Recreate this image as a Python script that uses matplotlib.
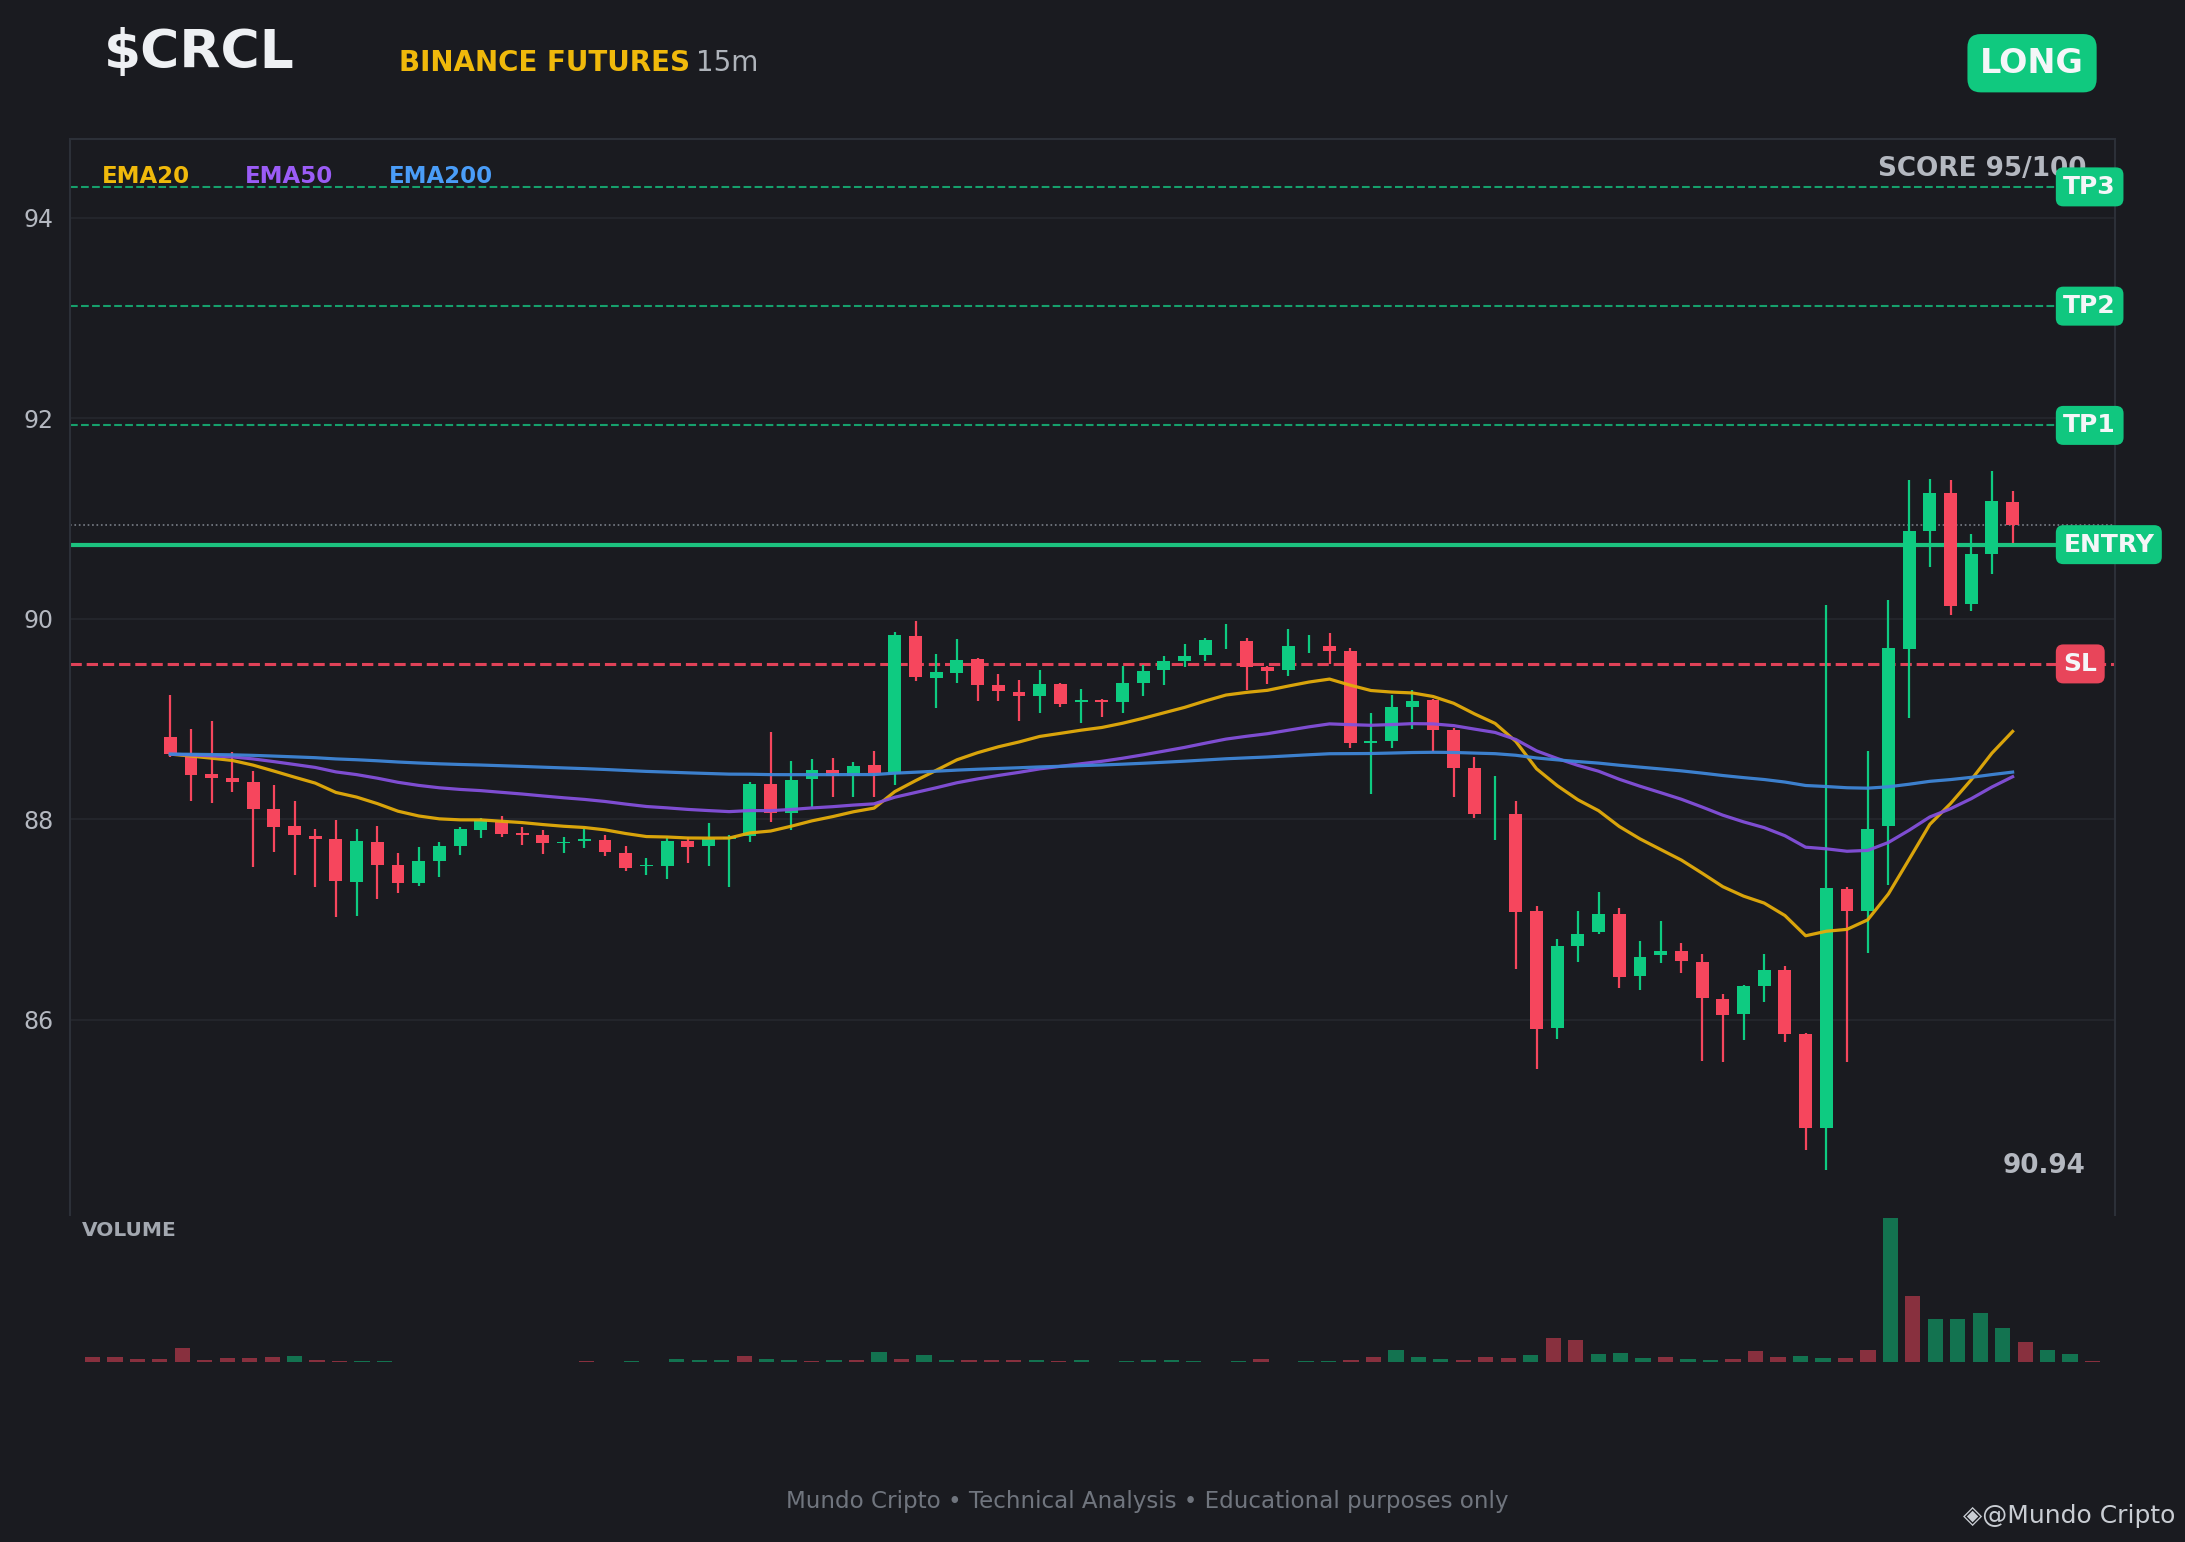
import numpy as np
import pandas as pd
import matplotlib
matplotlib.use("Agg")
import matplotlib.pyplot as plt

# --- candle data (15m) ---
opens = [88.82, 88.65, 88.45, 88.41, 88.37, 88.10, 87.93, 87.83, 87.80, 87.37,
         87.77, 87.54, 87.36, 87.58, 87.73, 87.89, 87.97, 87.86, 87.84, 87.76,
         87.78, 87.79, 87.66, 87.53, 87.53, 87.78, 87.73, 87.80, 87.83, 88.35,
         88.06, 88.40, 88.49, 88.43, 88.54, 88.45, 89.83, 89.41, 89.46, 89.60,
         89.34, 89.27, 89.23, 89.35, 89.17, 89.19, 89.17, 89.36, 89.49, 89.58,
         89.64, 89.80, 89.78, 89.52, 89.49, 89.75, 89.73, 89.68, 88.76, 88.78,
         89.12, 89.19, 88.89, 88.51, 88.05, 88.05, 87.08, 85.92, 86.74, 86.87,
         87.05, 86.44, 86.65, 86.69, 86.58, 86.21, 86.06, 86.34, 86.50, 85.86,
         84.92, 87.30, 87.08, 87.93, 89.70, 90.88, 91.26, 90.15, 90.65, 91.17]
highs = [89.24, 88.90, 88.98, 88.67, 88.48, 88.34, 88.18, 87.90, 87.99, 87.90,
         87.93, 87.66, 87.72, 87.77, 87.92, 88.01, 88.03, 87.92, 87.89, 87.82,
         87.90, 87.84, 87.73, 87.61, 87.81, 87.82, 87.96, 87.84, 88.37, 88.87,
         88.58, 88.60, 88.61, 88.57, 88.68, 89.87, 89.98, 89.65, 89.80, 89.61,
         89.45, 89.39, 89.49, 89.36, 89.30, 89.20, 89.53, 89.54, 89.63, 89.75,
         89.81, 89.95, 89.81, 89.53, 89.90, 89.84, 89.86, 89.71, 89.06, 89.24,
         89.29, 89.20, 88.91, 88.62, 88.43, 88.18, 87.13, 86.81, 87.08, 87.27,
         87.11, 86.79, 86.98, 86.77, 86.66, 86.26, 86.35, 86.66, 86.54, 85.87,
         90.14, 87.32, 88.68, 90.19, 91.39, 91.40, 91.39, 90.85, 91.47, 91.28]
lows = [88.62, 88.18, 88.16, 88.27, 87.52, 87.67, 87.44, 87.32, 87.02, 87.03,
        87.20, 87.26, 87.33, 87.42, 87.64, 87.81, 87.82, 87.74, 87.65, 87.66,
        87.71, 87.63, 87.48, 87.44, 87.40, 87.56, 87.53, 87.32, 87.77, 87.97,
        87.89, 88.12, 88.22, 88.22, 88.22, 88.34, 89.38, 89.11, 89.36, 89.18,
        89.18, 88.98, 89.06, 89.12, 88.96, 89.02, 89.06, 89.23, 89.34, 89.52,
        89.58, 89.70, 89.29, 89.35, 89.43, 89.66, 89.55, 88.71, 88.25, 88.71,
        88.90, 88.67, 88.22, 88.01, 87.79, 86.51, 85.51, 85.81, 86.58, 86.85,
        86.32, 86.30, 86.57, 86.47, 85.59, 85.58, 85.80, 86.18, 85.78, 84.70,
        84.50, 85.58, 86.67, 87.34, 89.01, 90.52, 90.04, 90.08, 90.45, 90.76]
closes = [88.65, 88.44, 88.41, 88.37, 88.10, 87.92, 87.84, 87.80, 87.38, 87.78,
          87.54, 87.36, 87.58, 87.73, 87.90, 87.99, 87.85, 87.84, 87.76, 87.77,
          87.80, 87.67, 87.51, 87.54, 87.78, 87.72, 87.80, 87.82, 88.35, 88.06,
          88.39, 88.49, 88.43, 88.53, 88.46, 89.84, 89.42, 89.47, 89.59, 89.34,
          89.28, 89.23, 89.35, 89.15, 89.19, 89.17, 89.36, 89.48, 89.58, 89.63,
          89.79, 89.80, 89.52, 89.48, 89.73, 89.75, 89.68, 88.76, 88.78, 89.12,
          89.18, 88.89, 88.51, 88.05, 88.05, 87.07, 85.91, 86.74, 86.85, 87.05,
          86.43, 86.63, 86.69, 86.59, 86.22, 86.05, 86.34, 86.50, 85.86, 84.92,
          87.31, 87.08, 87.90, 89.71, 90.88, 91.26, 90.13, 90.65, 91.18, 90.94]
volumes = [14, 14, 10, 8, 41, 5, 11, 11, 14, 17,
           5, 2, 2, 2, 0.3, 0.3, 0.3, 0.3, 0.3, 0.3,
           0.3, 0.3, 2, 0.3, 2, 0.3, 8, 5, 5, 17,
           8, 5, 3, 5, 5, 29, 8, 20, 5, 5,
           5, 5, 5, 3, 5, 0.3, 3, 5, 5, 3,
           0.3, 3, 8, 0.3, 3, 3, 5, 14, 35, 14,
           8, 5, 14, 11, 20, 71, 65, 23, 26, 11,
           14, 8, 5, 8, 32, 14, 17, 11, 11, 35,
           428, 197, 128, 128, 146, 101, 59, 35, 23, 2]

# --- trade levels ---
entry = 90.74
stop_loss = 89.55
take_profits = [91.93, 93.12, 94.31]
last_price = 90.94
yticks = [86, 88, 90, 92, 94]

# --- colours ---
BG = "#1a1b20"
GREEN = "#0ecb81"
RED = "#f6465d"
GRID = "#25282e"
SPINE = "#2c3038"
MUTED = "#b4b8c0"
EMA_COLORS = {"EMA20": "#f0b90b", "EMA50": "#9b5cf6", "EMA200": "#4a9df8"}
EMA_LINE = {"EMA20": "#e5ac0a", "EMA50": "#8450dc", "EMA200": "#3f86d8"}

df = pd.DataFrame({"open": opens, "high": highs, "low": lows, "close": closes, "volume": volumes})
x = np.arange(len(df))
# EMA indicator lines computed from the closes, as the chart does
ema = {name: df["close"].ewm(span=int(name[3:]), adjust=False).mean() for name in EMA_COLORS}
up = df["close"] >= df["open"]
candle_colors = np.where(up, GREEN, RED)

fig = plt.figure(figsize=(21.85, 15.42), dpi=100, facecolor=BG)
ax = fig.add_axes([0.032, 0.212, 0.936, 0.698], facecolor=BG)
ax_vol = fig.add_axes([0.032, 0.1167, 0.936, 0.0941], facecolor=BG)

# Candles: wicks then bodies
ax.vlines(x, df["low"], df["high"], colors=candle_colors, linewidth=1.6, zorder=3)
body_bottom = np.minimum(df["open"], df["close"])
body_height = (df["close"] - df["open"]).abs()
ax.bar(x, body_height, bottom=body_bottom, width=0.62, color=candle_colors, linewidth=0, zorder=4)

# EMA lines
for name, series in ema.items():
    ax.plot(x, series, color=EMA_LINE[name], linewidth=2.3, alpha=0.95, zorder=5)

# Trade levels
for tp in take_profits:
    ax.axhline(tp, color="#16a06c", linewidth=1.5, linestyle="--", zorder=2)
ax.axhline(entry, color="#1cc27f", linewidth=3.0, zorder=2)
ax.axhline(stop_loss, color="#e04258", linewidth=2.2, linestyle="--", zorder=2)
ax.axhline(last_price, color="#7a7f88", linewidth=1.2, linestyle=":", zorder=2)

label_x = len(df) + 1.45
badges = [("TP3", take_profits[2], "#10c77f"), ("TP2", take_profits[1], "#10c77f"),
          ("TP1", take_profits[0], "#10c77f"), ("ENTRY", entry, "#10c77f"),
          ("SL", stop_loss, "#e8455a")]
for text, level, color in badges:
    ax.text(label_x, level, text, color="#f4f6f8", fontsize=18, fontweight="bold",
            ha="left", va="center", zorder=10, clip_on=False,
            bbox=dict(boxstyle="round,pad=0.3,rounding_size=0.3", fc=color, ec="none"))

ax.set_xlim(-4.85, 93.95)
ax.set_ylim(84.05, 94.79)
ax.set_yticks(yticks)
ax.set_yticklabels([str(t) for t in yticks])
ax.tick_params(axis="y", colors=MUTED, labelsize=17, length=0, pad=12)
ax.set_xticks([])
ax.grid(axis="y", color=GRID, linewidth=1.2)
ax.set_axisbelow(True)
for side in ["left", "right", "top"]:
    ax.spines[side].set_color(SPINE)
    ax.spines[side].set_linewidth(1.5)
ax.spines["bottom"].set_visible(False)

# EMA legend
for (name, color), lx in zip(EMA_COLORS.items(), [0.0156, 0.0856, 0.156]):
    ax.text(lx, 0.959, name, transform=ax.transAxes, color=color, fontsize=16.5,
            fontweight="bold", ha="left", va="baseline", zorder=10)

ax.text(0.9858, 0.9656, "SCORE 95/100", transform=ax.transAxes, color=MUTED,
        fontsize=18.9, fontweight="bold", ha="right", va="baseline", zorder=6)
ax.text(0.9855, 0.039, f"{last_price:.2f}", transform=ax.transAxes, color=MUTED,
        fontsize=18.9, fontweight="bold", ha="right", va="baseline", zorder=6)

# Volume panel
vol_colors = np.where(up, GREEN, RED)
ax_vol.bar(x, df["volume"], width=0.68, color=vol_colors, alpha=0.5, linewidth=0)
ax_vol.set_xlim(-1, len(df))
ax_vol.set_ylim(0, max(volumes) * 1.01)
ax_vol.axis("off")
ax_vol.text(0.006, 0.97, "VOLUME", transform=ax_vol.transAxes, color="#a3a8b0",
            fontsize=14.5, fontweight="bold", ha="left", va="top")

# Header
fig.text(0.0476, 0.9559, "$CRCL", color="#eef0f3", fontsize=38.5, fontweight="bold",
         ha="left", va="baseline")
fig.text(0.1826, 0.954, "BINANCE FUTURES", color="#f0b90b", fontsize=20, fontweight="bold",
         ha="left", va="baseline")
fig.text(0.3185, 0.954, "15m", color="#aeb3ba", fontsize=20, ha="left", va="baseline")
fig.text(0.930, 0.959, "LONG", color="#f4f6f8", fontsize=24, fontweight="bold",
         ha="center", va="center",
         bbox=dict(boxstyle="round,pad=0.38,rounding_size=0.4", fc="#10c97f", ec="none"))

# Footer
fig.text(0.525, 0.026, "Mundo Cripto \u2022 Technical Analysis \u2022 Educational purposes only",
         color="#70757e", fontsize=16.6, ha="center", va="center")
fig.text(0.9955, 0.017, "\u25c8@Mundo Cripto", color="#c9cdd3", fontsize=18,
         ha="right", va="center")

fig.savefig("out.png", dpi=100, facecolor=BG)
plt.close(fig)
